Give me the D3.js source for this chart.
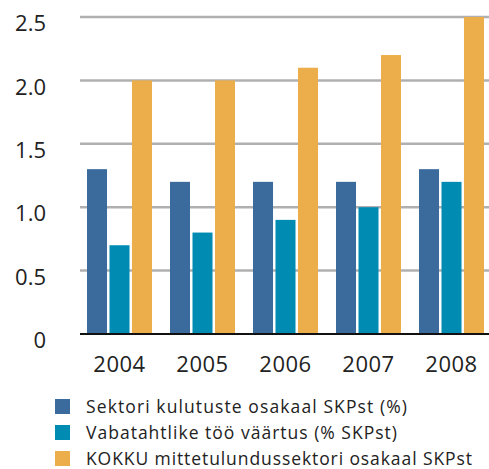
<!DOCTYPE html>
<html><head><meta charset="utf-8">
<script src="https://cdn.jsdelivr.net/npm/d3@7"></script>
<style>body{margin:0;background:#fff}svg{display:block}</style>
</head><body>
<svg id="c" width="489" height="469"></svg>
<script>
const years = ["2004","2005","2006","2007","2008"];
const seriesNames = ["Sektori kulutuste osakaal SKPst (%)","Vabatahtlike töö väärtus (% SKPst)","KOKKU mittetulundussektori osakaal SKPst"];
const sektori = [1.3,1.2,1.2,1.2,1.3];
const vabatahtlike = [0.7,0.8,0.9,1.0,1.2];
const kokku = [2.0,2.0,2.1,2.2,2.5];
const yTicks = [0,0.5,1.0,1.5,2.0,2.5];
const yTickLabels = ["0","0.5","1.0","1.5","2.0","2.5"];
const colors = ["#3b6a9c","#008bb3","#ecae4a"];

const series = [sektori, vabatahtlike, kokku];
const svg = d3.select("#c");
const font = "'Open Sans', sans-serif";
const x0 = d3.scaleBand().domain(years).range([87,484]).paddingInner(0.217).paddingOuter(0);
const x1 = d3.scaleBand().domain([0,1,2]).range([0,x0.bandwidth()]).paddingInner(0.11);
const y = d3.scaleLinear().domain([0,2.5]).range([334,17]);

// gridlines
svg.append("g").selectAll("line").data(yTicks.filter(d=>d>0)).join("line")
  .attr("x1",80).attr("x2",489).attr("y1",d=>y(d)).attr("y2",d=>y(d))
  .attr("stroke","#b0b0b0").attr("stroke-width",2.5);

// bars
const g = svg.append("g").selectAll("g").data(years).join("g")
  .attr("transform",d=>`translate(${x0(d)},0)`);
g.selectAll("rect").data((d,i)=>series.map((s,k)=>({k,v:s[i]}))).join("rect")
  .attr("x",d=>x1(d.k)).attr("width",x1.bandwidth())
  .attr("y",d=>y(d.v)).attr("height",d=>y(0)-y(d.v))
  .attr("fill",d=>colors[d.k]);

// y axis labels
const yAxis = d3.axisLeft(y).tickValues(yTicks).tickFormat((d,i)=>yTickLabels[i]).tickSize(0).tickPadding(0);
const ya = svg.append("g").attr("transform","translate(46,0)").call(yAxis);
ya.select(".domain").remove();
ya.selectAll("text").attr("font-family",font).attr("font-size",22).attr("fill","#222").attr("dy","0.62em");

// baseline
svg.append("line").attr("x1",80).attr("x2",489).attr("y1",y(0)).attr("y2",y(0)).attr("stroke","#111").attr("stroke-width",2);

// x axis
const xAxis = d3.axisBottom(x0).tickSize(0).tickPadding(0);
const xa = svg.append("g").attr("transform",`translate(0,${y(0)})`).call(xAxis);
xa.select(".domain").remove();
xa.selectAll("text").attr("font-family",font).attr("font-size",22).attr("fill","#222").attr("y",38).attr("dy",0).attr("letter-spacing",0.5);

// legend
const lg = svg.append("g").selectAll("g").data(seriesNames).join("g")
  .attr("transform",(d,i)=>`translate(55,${399+i*26})`);
lg.append("rect").attr("width",15).attr("height",15).attr("fill",(d,i)=>colors[i]);
const legendWidths = [321, 311, 386];
lg.append("text").attr("x",31).attr("y",14).text(d=>d)
  .attr("font-family",font).attr("font-size",17.5).attr("fill","#222")
  .attr("textLength",(d,i)=>legendWidths[i]).attr("lengthAdjust","spacing");
</script>
</body></html>
